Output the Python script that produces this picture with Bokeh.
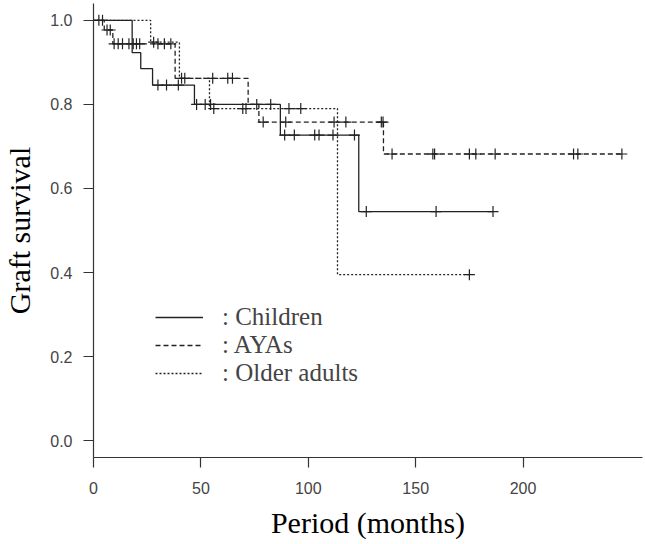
import numpy as np
from bokeh.plotting import figure
from bokeh.models import Range1d, FixedTicker, Legend, LegendItem, PrintfTickFormatter
from bokeh.embed import file_html
from bokeh.resources import INLINE

# ---- Data (months, graft survival) ----
children_times = [0, 18, 22, 27.5, 47, 87, 123.5, 186]
children_surv = [1.0, 0.923, 0.885, 0.846, 0.800, 0.727, 0.545, 0.545]
children_censor = [30, 34, 39.5, 48, 52, 54.5, 82.5, 89, 93.5, 103, 105, 111.5,
                   121.5, 127, 159.5, 186]

ayas_times = [0, 5, 9, 38, 72, 77, 135, 246]
ayas_surv = [1.0, 0.977, 0.944, 0.862, 0.800, 0.758, 0.682, 0.682]
ayas_censor = [2.5, 4.2, 6.3, 7.8, 9.6, 11.5, 13.5, 16.5, 18.5, 20, 21.5, 30, 33, 36,
               41, 42.5, 55.5, 62.5, 64.7, 76, 79, 89.5, 112, 117.5, 134, 134.8,
               139, 158, 158.8, 175, 178, 187, 223.5, 225.5, 246]

older_times = [0, 26.6, 40, 54, 113.6, 175]
older_surv = [1.0, 0.948, 0.862, 0.790, 0.395, 0.395]
older_censor = [28, 56, 69.5, 71, 91, 96.5, 175]

group_labels = [": Children", ": AYAs", ": Older adults"]
x_ticks = [0, 50, 100, 150, 200]
y_ticks = [0.0, 0.2, 0.4, 0.6, 0.8, 1.0]
x_title = "Period (months)"
y_title = "Graft survival"


def surv_at(times, surv, t):
    t_arr = np.asarray(times, dtype=float)
    s_arr = np.asarray(surv, dtype=float)
    idx = np.searchsorted(t_arr, np.asarray(t, dtype=float), side="right") - 1
    return s_arr[idx]


p = figure(width=645, height=544,
           x_range=Range1d(0, 255.6), y_range=Range1d(-0.04, 1.04),
           output_backend="svg", toolbar_location=None, title_location=None,
           min_border_left=93, min_border_right=3, min_border_top=3,
           min_border_bottom=87)
p.background_fill_color = "white"
p.border_fill_color = "white"
p.outline_line_color = None
p.xgrid.visible = False
p.ygrid.visible = False

ink = "#222222"
styles = [("solid", children_times, children_surv, children_censor),
          ("5 3", ayas_times, ayas_surv, ayas_censor),
          ("2 2", older_times, older_surv, older_censor)]

line_renderers = []
for dash, t, s, c in styles:
    r = p.step(t, s, mode="after", line_color=ink, line_width=1.3, line_dash=dash)
    line_renderers.append(r)
    p.scatter(c, surv_at(t, s, c), marker="cross", size=11,
              line_color=ink, line_width=1.2)

# axes
for ax in (p.xaxis[0], p.yaxis[0]):
    ax.axis_line_color = "#333333"
    ax.axis_line_width = 1.2
    ax.major_tick_line_color = "#333333"
    ax.major_tick_line_width = 1.2
    ax.major_tick_out = 10
    ax.major_tick_in = 0
    ax.minor_tick_line_color = None
    ax.major_label_text_font = "Liberation Sans"
    ax.major_label_text_font_size = "16px"
    ax.major_label_text_color = "#444444"
    ax.axis_label_text_font = "Liberation Serif"
    ax.axis_label_text_font_size = "30px"
    ax.axis_label_text_font_style = "normal"
    ax.axis_label_text_color = "black"
p.xaxis.ticker = FixedTicker(ticks=x_ticks)
p.yaxis.ticker = FixedTicker(ticks=y_ticks)
p.yaxis.formatter = PrintfTickFormatter(format="%.1f")
p.xaxis.major_label_standoff = 14
p.yaxis.major_label_standoff = 11
p.xaxis.axis_label = x_title
p.yaxis.axis_label = y_title
p.xaxis.axis_label_standoff = 9
p.yaxis.axis_label_standoff = 11

legend = Legend(items=[LegendItem(label=lab, renderers=[r])
                       for lab, r in zip(group_labels, line_renderers)],
                location=(62, 70), glyph_width=48, glyph_height=20,
                label_standoff=19, spacing=-4, padding=0, margin=0,
                label_text_font="Liberation Serif", label_text_font_size="25px",
                border_line_color=None, background_fill_alpha=0)
p.add_layout(legend)

open("out.html", "w").write(file_html(p, INLINE))
